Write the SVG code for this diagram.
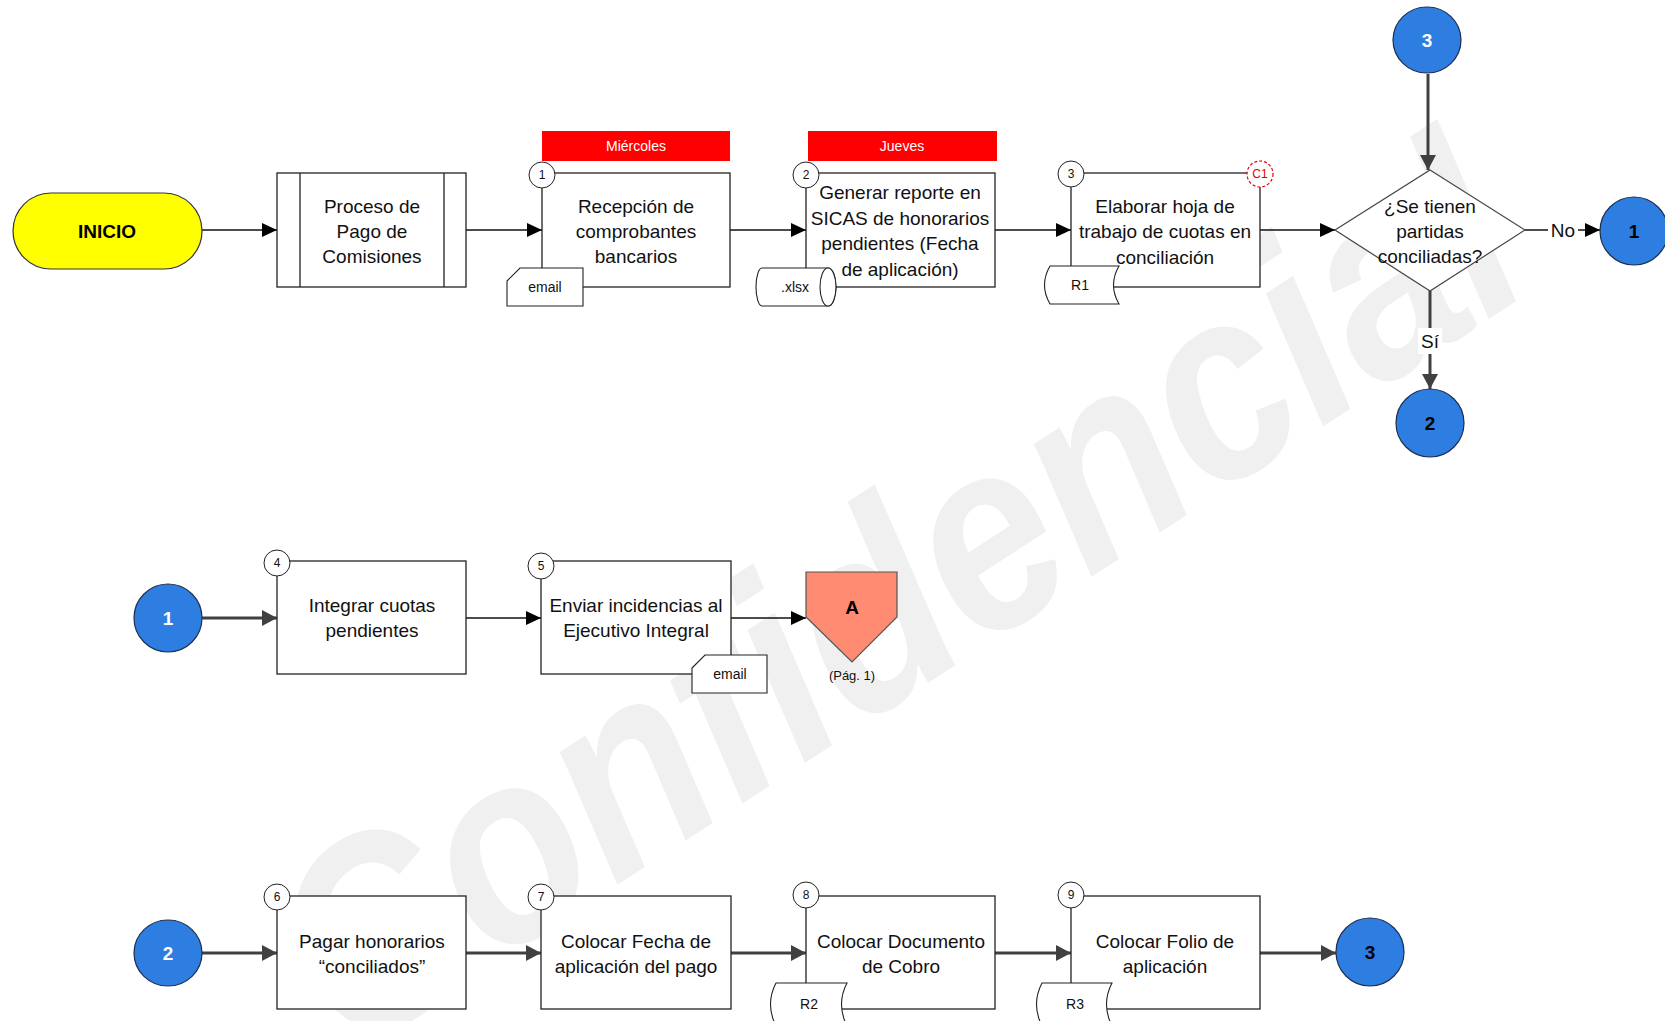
<svg xmlns="http://www.w3.org/2000/svg" width="1665" height="1021" viewBox="0 0 1665 1021">
<defs>
<style>
.bx{fill:#fff;stroke:#222;stroke-width:1.3}
.t{font-family:"Liberation Sans",Arial,sans-serif;font-size:19px;fill:#111;text-anchor:middle}
.sn{font-family:"Liberation Sans",Arial,sans-serif;font-size:12px;fill:#111;text-anchor:middle}
.sc{fill:#fff;stroke:#222;stroke-width:1}
.sm{font-family:"Liberation Sans",Arial,sans-serif;font-size:14px;fill:#111;text-anchor:middle}
.day{font-family:"Liberation Sans",Arial,sans-serif;font-size:14px;fill:#fff;text-anchor:middle}
.bc{fill:#2E7DE1;stroke:#1c2f50;stroke-width:1.2}
.bl{font-family:"Liberation Sans",Arial,sans-serif;font-size:19px;font-weight:bold;text-anchor:middle}
.c1{fill:none;stroke:#111;stroke-width:1.4}
.c2{fill:none;stroke:#404040;stroke-width:3}
.doc{fill:#fff;stroke:#222;stroke-width:1.1}
</style>
<marker id="a1" markerUnits="userSpaceOnUse" markerWidth="16" markerHeight="14" refX="15" refY="7" orient="auto"><path d="M0,0 L15,7 L0,14 Z" fill="#000"/></marker>
<marker id="a2" markerUnits="userSpaceOnUse" markerWidth="16" markerHeight="16" refX="15" refY="8" orient="auto"><path d="M0,0 L15,8 L0,16 Z" fill="#404040"/></marker>
</defs>
<rect width="1665" height="1021" fill="#fff"/>
<text transform="translate(945,672) rotate(-33)" font-family="Liberation Sans,Arial,sans-serif" font-size="270" font-weight="bold" font-style="italic" fill="#f0f0f0" text-anchor="middle" textLength="1420" lengthAdjust="spacingAndGlyphs">Confidencial</text>

<g id="connectors">
<line class="c1" x1="202" y1="230" x2="277" y2="230" marker-end="url(#a1)"/>
<line class="c1" x1="466" y1="230" x2="542" y2="230" marker-end="url(#a1)"/>
<line class="c1" x1="730" y1="230" x2="806" y2="230" marker-end="url(#a1)"/>
<line class="c1" x1="995" y1="230" x2="1071" y2="230" marker-end="url(#a1)"/>
<line class="c1" x1="1259" y1="230" x2="1335" y2="230" marker-end="url(#a1)"/>
<line class="c1" x1="1525" y1="230" x2="1600" y2="230" marker-end="url(#a1)"/>
<rect x="1548" y="218" width="30" height="24" fill="#fff"/>
<text class="t" x="1563" y="237">No</text>
<line class="c2" x1="1428" y1="74" x2="1428" y2="170" marker-end="url(#a2)"/>
<line class="c2" x1="1430" y1="291" x2="1430" y2="389" marker-end="url(#a2)"/>
<rect x="1418" y="328" width="24" height="26" fill="#fff"/>
<text class="t" x="1430" y="348">Sí</text>
<line class="c2" x1="202" y1="618" x2="277" y2="618" marker-end="url(#a2)"/>
<line class="c1" x1="466" y1="618" x2="541" y2="618" marker-end="url(#a1)"/>
<line class="c1" x1="731" y1="618" x2="806" y2="618" marker-end="url(#a1)"/>
<line class="c2" x1="202" y1="953" x2="277" y2="953" marker-end="url(#a2)"/>
<line class="c2" x1="466" y1="953" x2="541" y2="953" marker-end="url(#a2)"/>
<line class="c2" x1="731" y1="953" x2="806" y2="953" marker-end="url(#a2)"/>
<line class="c2" x1="995" y1="953" x2="1071" y2="953" marker-end="url(#a2)"/>
<line class="c2" x1="1260" y1="953" x2="1336" y2="953" marker-end="url(#a2)"/>
</g>

<g id="inicio">
<rect x="13" y="193" width="189" height="76" rx="38" fill="#FFFF00" stroke="#333" stroke-width="1.2"/>
<text class="bl" x="107" y="238" fill="#000">INICIO</text>
</g>

<g id="proceso">
<rect class="bx" x="277" y="173" width="189" height="114"/>
<line x1="300" y1="173" x2="300" y2="287" stroke="#222" stroke-width="1.3"/>
<line x1="444" y1="173" x2="444" y2="287" stroke="#222" stroke-width="1.3"/>
<text class="t" x="372" y="213">Proceso de</text>
<text class="t" x="372" y="238">Pago de</text>
<text class="t" x="372" y="263">Comisiones</text>
</g>

<g id="step1">
<rect x="542" y="131" width="188" height="30" fill="#FF0000"/>
<text class="day" x="636" y="151">Miércoles</text>
<rect class="bx" x="542" y="173" width="188" height="114"/>
<text class="t" x="636" y="213">Recepción de</text>
<text class="t" x="636" y="238">comprobantes</text>
<text class="t" x="636" y="263">bancarios</text>
<circle class="sc" cx="542" cy="175" r="13"/>
<text class="sn" x="542" y="179">1</text>
<path class="doc" d="M507,281 L520,268 L583,268 L583,306 L507,306 Z"/>
<text class="sm" x="545" y="292">email</text>
</g>

<g id="step2">
<rect x="808" y="131" width="189" height="30" fill="#FF0000"/>
<text class="day" x="902" y="151">Jueves</text>
<rect class="bx" x="806" y="173" width="189" height="114"/>
<text class="t" x="900" y="199">Generar reporte en</text>
<text class="t" x="900" y="225">SICAS de honorarios</text>
<text class="t" x="900" y="250">pendientes (Fecha</text>
<text class="t" x="900" y="276">de aplicación)</text>
<circle class="sc" cx="806" cy="175" r="13"/>
<text class="sn" x="806" y="179">2</text>
<path class="doc" d="M762,268 L828,268 A8,19 0 0 1 828,306 L762,306 A6,19 0 0 1 762,268 Z"/>
<ellipse class="doc" cx="828" cy="287" rx="8" ry="19"/>
<text class="sm" x="795" y="292">.xlsx</text>
</g>

<g id="step3">
<rect class="bx" x="1071" y="173" width="189" height="114"/>
<text class="t" x="1165" y="213">Elaborar hoja de</text>
<text class="t" x="1165" y="238">trabajo de cuotas en</text>
<text class="t" x="1165" y="264">conciliación</text>
<circle class="sc" cx="1071" cy="174" r="13"/>
<text class="sn" x="1071" y="178">3</text>
<circle cx="1260" cy="174" r="13" fill="#fff" stroke="#E00000" stroke-width="1.2" stroke-dasharray="3,2"/>
<text x="1260" y="178" font-family="Liberation Sans,Arial,sans-serif" font-size="12" fill="#E00000" text-anchor="middle">C1</text>
<path class="doc" d="M1050,266 L1119,266 Q1108,285 1119,304 L1050,304 Q1039,285 1050,266 Z"/>
<text class="sm" x="1080" y="290">R1</text>
</g>

<g id="decision">
<polygon points="1430,170 1525,230 1430,291 1335,230" fill="#fff" stroke="#444" stroke-width="1.2"/>
<text class="t" x="1430" y="213">¿Se tienen</text>
<text class="t" x="1430" y="238">partidas</text>
<text class="t" x="1430" y="263">conciliadas?</text>
</g>

<g id="conn3top"><ellipse class="bc" cx="1427" cy="40" rx="34" ry="33"/><text class="bl" x="1427" y="47" fill="#fff">3</text></g>
<g id="conn1right"><ellipse class="bc" cx="1634" cy="231" rx="34" ry="34"/><text class="bl" x="1634" y="238" fill="#000">1</text></g>
<g id="conn2bottom"><ellipse class="bc" cx="1430" cy="423" rx="34" ry="34"/><text class="bl" x="1430" y="430" fill="#000">2</text></g>

<g id="conn1left"><ellipse class="bc" cx="168" cy="618" rx="34" ry="34"/><text class="bl" x="168" y="625" fill="#fff">1</text></g>

<g id="step4">
<rect class="bx" x="277" y="561" width="189" height="113"/>
<text class="t" x="372" y="612">Integrar cuotas</text>
<text class="t" x="372" y="637">pendientes</text>
<circle class="sc" cx="277" cy="563" r="13"/>
<text class="sn" x="277" y="567">4</text>
</g>

<g id="step5">
<rect class="bx" x="541" y="561" width="190" height="113"/>
<text class="t" x="636" y="612">Enviar incidencias al</text>
<text class="t" x="636" y="637">Ejecutivo Integral</text>
<circle class="sc" cx="541" cy="566" r="13"/>
<text class="sn" x="541" y="570">5</text>
<path class="doc" d="M692,668 L705,655 L767,655 L767,693 L692,693 Z"/>
<text class="sm" x="730" y="679">email</text>
</g>

<g id="offpageA">
<polygon points="806,572 897,572 897,617 852,662 806,617" fill="#FF8B73" stroke="#555" stroke-width="1.2"/>
<text class="bl" x="852" y="614" fill="#000">A</text>
<text x="852" y="680" font-family="Liberation Sans,Arial,sans-serif" font-size="13" fill="#111" text-anchor="middle">(Pág. 1)</text>
</g>

<g id="conn2left"><ellipse class="bc" cx="168" cy="953" rx="34" ry="33"/><text class="bl" x="168" y="960" fill="#fff">2</text></g>

<g id="step6">
<rect class="bx" x="277" y="896" width="189" height="113"/>
<text class="t" x="372" y="948">Pagar honorarios</text>
<text class="t" x="372" y="973">“conciliados”</text>
<circle class="sc" cx="277" cy="897" r="13"/>
<text class="sn" x="277" y="901">6</text>
</g>

<g id="step7">
<rect class="bx" x="541" y="896" width="190" height="113"/>
<text class="t" x="636" y="948">Colocar Fecha de</text>
<text class="t" x="636" y="973">aplicación del pago</text>
<circle class="sc" cx="541" cy="897" r="13"/>
<text class="sn" x="541" y="901">7</text>
</g>

<g id="step8">
<rect class="bx" x="806" y="896" width="189" height="113"/>
<text class="t" x="901" y="948">Colocar Documento</text>
<text class="t" x="901" y="973">de Cobro</text>
<circle class="sc" cx="806" cy="895" r="13"/>
<text class="sn" x="806" y="899">8</text>
<path class="doc" d="M776,983 L847,983 Q836,1004 847,1026 L776,1026 Q765,1004 776,983 Z"/>
<text class="sm" x="809" y="1009">R2</text>
</g>

<g id="step9">
<rect class="bx" x="1071" y="896" width="189" height="113"/>
<text class="t" x="1165" y="948">Colocar Folio de</text>
<text class="t" x="1165" y="973">aplicación</text>
<circle class="sc" cx="1071" cy="895" r="13"/>
<text class="sn" x="1071" y="899">9</text>
<path class="doc" d="M1042,983 L1112,983 Q1101,1004 1112,1026 L1042,1026 Q1031,1004 1042,983 Z"/>
<text class="sm" x="1075" y="1009">R3</text>
</g>

<g id="conn3right"><ellipse class="bc" cx="1370" cy="952" rx="34" ry="34"/><text class="bl" x="1370" y="959" fill="#000">3</text></g>
</svg>
